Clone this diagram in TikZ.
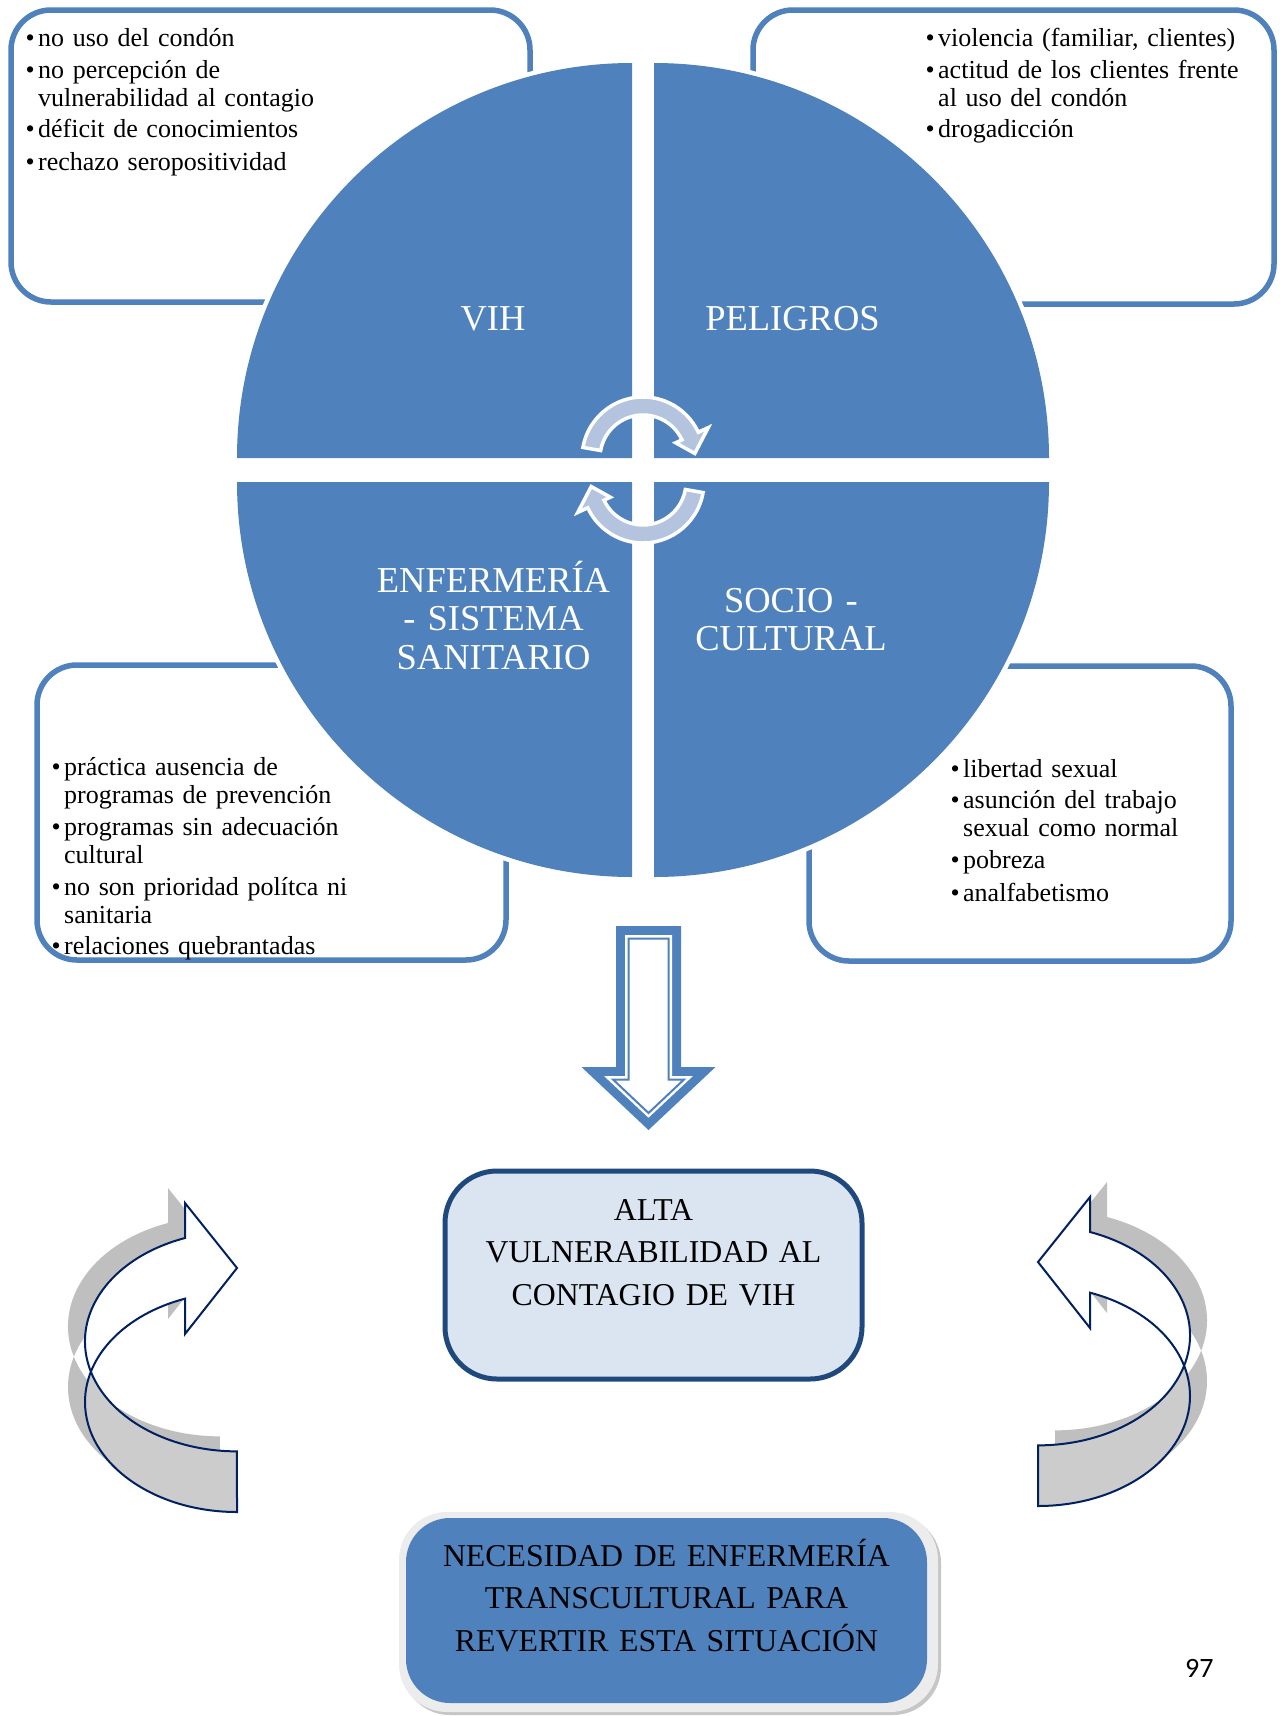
\documentclass[tikz,border=0pt]{standalone}
\usepackage{fontspec}
\setmainfont{Liberation Serif}
\newfontfamily\pagefont{Carlito}
\usetikzlibrary{positioning}

\definecolor{quadblue}{RGB}{79,129,189}
\definecolor{cyclefill}{RGB}{180,196,222}
\definecolor{altaborder}{RGB}{31,73,125}
\definecolor{altafill}{RGB}{219,229,241}
\definecolor{navyline}{RGB}{0,32,96}
\definecolor{backgray}{RGB}{204,204,204}
\definecolor{shadowgray}{RGB}{191,191,191}
\definecolor{bevelgray}{RGB}{236,236,236}

\newcommand{\bul}{\leavevmode\llap{\textbullet\hspace{3.5pt}}}

\tikzset{
  quad/.style={fill=quadblue, preaction={draw=white, line width=9pt}},
  listbox/.style={draw=quadblue, line width=5.5pt, rounded corners=40pt},
  listtext/.style={anchor=base west, inner sep=0pt, text width=330pt, align=left,
    font=\fontsize{26}{28}\selectfont},
  quadlabel/.style={anchor=base, inner sep=0pt, text width=300pt, align=center,
    text=white, font=\fontsize{36.5}{38.5}\selectfont},
  boxlabel/.style={anchor=base, inner sep=0pt, text width=500pt, align=center,
    font=\fontsize{31.8}{42.5}\selectfont},
  cyclearrow/.pic={
    \path[fill=cyclefill, draw=white, line width=3.5pt]
      (190:61) arc[start angle=190, end angle=335, radius=61]
      -- (335:72) -- (355:52) -- (335:36) -- (335:43)
      arc[start angle=335, end angle=190, radius=43] -- cycle;
  },
  twistarrow/.pic={
    % shadow
    \fill[shadowgray, shift={(-17,-15)}]
      (0,110) arc[start angle=90, end angle=250, x radius=152, y radius=110]
      -- (-52,-68) -- (0,-134) -- (-52,-199) -- (-52,-164)
      arc[start angle=250, end angle=90, x radius=152, y radius=110] -- cycle;
    % back side
    \fill[backgray]
      (0,110) arc[start angle=90, end angle=196.1, x radius=152, y radius=110]
      arc[start angle=163.9, end angle=90, x radius=152, y radius=110] -- cycle;
    % front side
    \fill[white]
      (-52,-164) arc[start angle=250, end angle=163.9, x radius=152, y radius=110]
      arc[start angle=196.1, end angle=250, x radius=152, y radius=110]
      -- (-52,-68) -- (0,-134) -- (-52,-199) -- cycle;
    \draw[navyline, line width=2pt]
      (0,110) arc[start angle=90, end angle=250, x radius=152, y radius=110]
      -- (-52,-68) -- (0,-134) -- (-52,-199) -- (-52,-164)
      arc[start angle=250, end angle=90, x radius=152, y radius=110] -- cycle;
  }
}

\begin{document}
\begin{tikzpicture}[x=1pt, y=-1pt]

\useasboundingbox (0,0) rectangle (1282,1716);
\fill[white] (0,0) rectangle (1282,1716);

% list boxes
\draw[listbox] (11,10) rectangle (530,302);
\draw[listbox] (753,10) rectangle (1274,304);
\draw[listbox] (37,665) rectangle (506,960);
\draw[listbox] (809,666) rectangle (1231,961);

\node[listtext] (txtvih) at (38,46)
  {\bul no uso del condón\\[4pt]
   \bul no percepción de\\
   vulnerabilidad al contagio\\[3pt]
   \bul déficit de conocimientos\\[5pt]
   \bul rechazo seropositividad};
\node[listtext] (txtpel) at (938,46)
  {\bul violencia (familiar, clientes)\\[4pt]
   \bul actitud de los clientes frente\\
   al uso del condón\\[3pt]
   \bul drogadicción};
\node[listtext] (txtenf) at (64,775)
  {\bul práctica ausencia de\\
   programas de prevención\\[4pt]
   \bul programas sin adecuación\\
   cultural\\[4pt]
   \bul no son prioridad polítca ni\\
   sanitaria\\[3pt]
   \bul relaciones quebrantadas};
\node[listtext] (txtsoc) at (963,777)
  {\bul libertad sexual\\[3pt]
   \bul asunción del trabajo\\
   sexual como normal\\[4pt]
   \bul pobreza\\[5pt]
   \bul analfabetismo};

% circle in four parts
\path[quad] (632,458) -- ++(-395,0) arc[start angle=180, end angle=270, radius=395] -- cycle;
\path[quad] (654,458) -- ++(0,-395) arc[start angle=270, end angle=360, radius=395] -- cycle;
\path[quad] (654,482) -- ++(395,0) arc[start angle=0, end angle=90, radius=395] -- cycle;
\path[quad] (632,482) -- ++(0,395) arc[start angle=90, end angle=180, radius=395] -- cycle;

\node[quadlabel] (vih) at (493,330) {VIH};
\node[quadlabel] (peligros) at (792.5,330) {PELIGROS};
\node[quadlabel] (enfermeria) at (493.5,592) {ENFERMERÍA\\- SISTEMA\\SANITARIO};
\node[quadlabel] (socio) at (791,612) {SOCIO -\\CULTURAL};

\pic at (643,458) {cyclearrow};
\pic[rotate=180] at (643,482) {cyclearrow};

% down arrow
\fill[quadblue] (616,926) -- (681,926) -- (681,1067) -- (715.5,1067) -- (648.5,1130)
  -- (581.5,1067) -- (616,1067) -- cycle;
\fill[white] (625,935) -- (672,935) -- (672,1076) -- (693,1076) -- (648.5,1117.7)
  -- (604,1076) -- (625,1076) -- cycle;
\draw[quadblue, line width=2pt] (628.5,938.5) -- (668.5,938.5) -- (668.5,1079.5)
  -- (684,1079.5) -- (648.5,1113) -- (613,1079.5) -- (628.5,1079.5) -- cycle;

% result box
\draw[altaborder, fill=altafill, line width=5pt, rounded corners=52pt]
  (445,1171) rectangle (862,1379);
\node[boxlabel] (alta) at (653.5,1220)
  {ALTA\\VULNERABILIDAD AL\\CONTAGIO DE VIH};

\pic at (237,1402) {twistarrow};
\pic[xscale=-1] at (1038,1396) {twistarrow};

% final box
\fill[gray!45, rounded corners=48pt] (402,1515) rectangle (941,1715);
\fill[bevelgray, rounded corners=48pt] (399,1512) rectangle (938,1712);
\fill[quadblue, rounded corners=44pt] (406,1518) rectangle (927,1703);
\node[boxlabel] (necesidad) at (666.5,1566)
  {NECESIDAD DE ENFERMERÍA\\TRANSCULTURAL PARA\\REVERTIR ESTA SITUACIÓN};

\node[anchor=base west, inner sep=0pt, font=\pagefont\fontsize{28}{30}\selectfont]
  (pagenum) at (1185,1677) {97};

\end{tikzpicture}
\end{document}
